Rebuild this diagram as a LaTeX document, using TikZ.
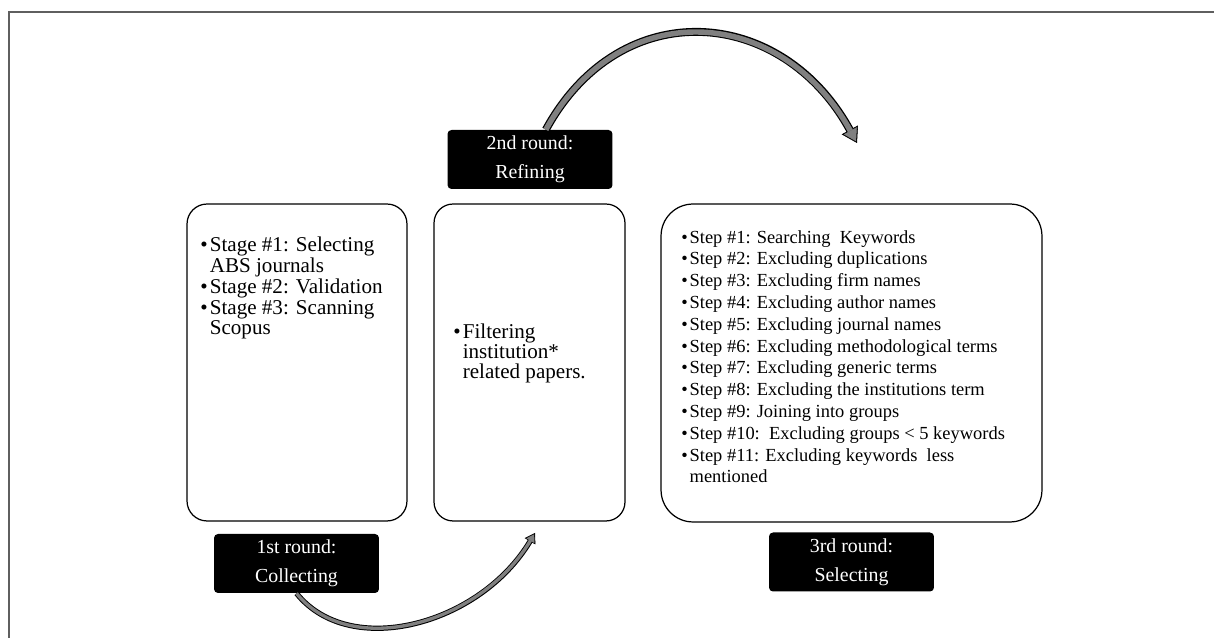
\documentclass[tikz,border=0pt]{standalone}
\usepackage{fontspec}
\setmainfont{Liberation Serif}
\usepackage{tikz}
\usetikzlibrary{arrows.meta,positioning}
\usepackage{xcolor}
\definecolor{frgray}{RGB}{95,95,95}
\definecolor{argray}{RGB}{128,128,128}
\tikzstyle{roundbox} = [draw=black, line width=0.7pt, fill=white, inner sep=0pt, minimum height=6.34cm]
\tikzstyle{roundlabel} = [fill=black, text=white, rounded corners=0.08cm, align=center, minimum width=3.3cm, minimum height=1.18cm, inner sep=0pt, font=\fontsize{11.3pt}{16.4pt}\selectfont]
\tikzstyle{listtext} = [anchor=north west, inner sep=0pt, align=left, font=\fontsize{10.5pt}{12.4pt}\selectfont]
\tikzstyle{biglist} = [listtext, font=\fontsize{12pt}{11.8pt}\selectfont]
\tikzstyle{bigarrow} = [draw=black, line width=4.5pt, -{Triangle[length=8.5pt,width=10.5pt,line width=0.3pt]}, postaction={draw=argray, line width=3.1pt, shorten >=1.1pt, -{Triangle[length=6.8pt,width=8.3pt,line width=0.3pt]}}]
\tikzstyle{smallarrow} = [draw=black, line width=3pt, -{Triangle[length=5.5pt,width=7pt,line width=0.3pt]}, postaction={draw=argray, line width=1.9pt, shorten >=0.9pt, -{Triangle[length=4.2pt,width=5.2pt,line width=0.3pt]}}]
\newcommand{\bul}{\makebox[0.45em][l]{\textbullet}}
\newcommand{\ind}{\hspace*{0.45em}}

\begin{document}
\begin{tikzpicture}[x=0.02cm, y=0.02cm]
\useasboundingbox (0,0) rectangle (1214,638);
% frame
\draw[frgray, line width=0.8pt] (9,0) -- (9,626) -- (1214,626);

% Three rounds
\node[roundbox, rounded corners=0.4cm, minimum width=4.4cm] (box1) at (297,275.5) {};
\node[roundbox, rounded corners=0.38cm, minimum width=3.82cm] (box2) at (529.5,275.5) {};
\node[roundbox, rounded corners=0.64cm, minimum width=7.62cm, minimum height=6.36cm] (box3) at (851.5,275) {};

\node[biglist] (txt1) at (200,401) {\bul Stage \#1: Selecting\\ \ind ABS journals\\ \bul Stage \#2: Validation\\ \bul Stage \#3: Scanning\\ \ind Scopus};
\node[biglist, font=\fontsize{12pt}{11.3pt}\selectfont] (txt2) at (453,314) {\bul Filtering\\ \ind institution*\\ \ind related papers.};
\node[listtext] (txt3) at (681,408) {\bul Step \#1: Searching\ \ Keywords\\ \bul Step \#2: Excluding duplications\\ \bul Step \#3: Excluding firm names\\ \bul Step \#4: Excluding author names\\ \bul Step \#5: Excluding journal names\\ \bul Step \#6: Excluding methodological terms\\ \bul Step \#7: Excluding generic terms\\ \bul Step \#8: Excluding the institutions term\\ \bul Step \#9: Joining into groups\\ \bul Step \#10:\ \ Excluding groups < 5 keywords\\ \bul Step \#11: Excluding keywords\ \ less\\ \ind mentioned};

\node[roundlabel] (lab1) at (296.5,74.5) {1st round:\\Collecting};
\node[roundlabel] (lab2) at (530,478.5) {2nd round:\\Refining};
\node[roundlabel] (lab3) at (851.5,76) {3rd round:\\Selecting};

% curved arrows
\coordinate (tip1) at (535,105);
\coordinate (tip2) at (857,495);
\draw[smallarrow] (lab1.south) .. controls (350,-22) and (480,13) .. (tip1);
\draw[bigarrow] (lab2.62) .. controls +(75,137) and +(-75,137) .. (tip2);
\end{tikzpicture}
\end{document}
